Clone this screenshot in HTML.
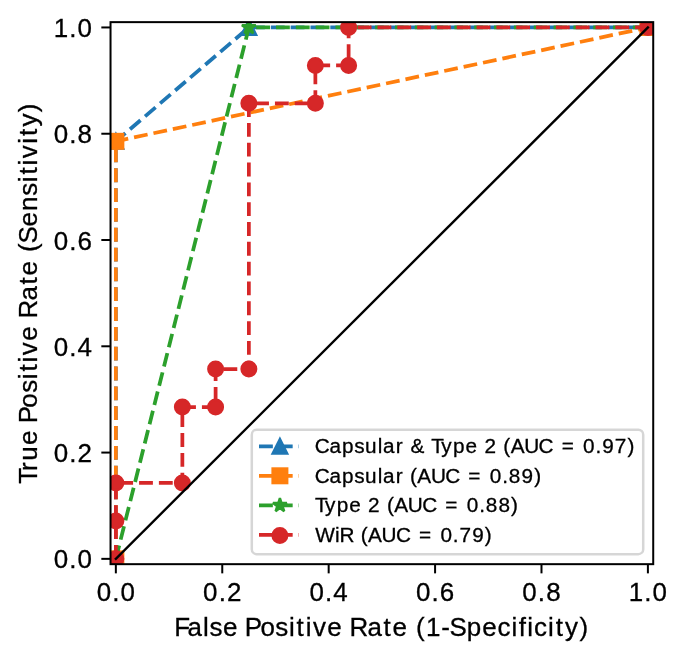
<!DOCTYPE html>
<html><head><meta charset="utf-8"><style>
html,body{margin:0;padding:0;background:#fff;}
svg{display:block;}
text{font-family:"Liberation Sans", sans-serif;fill:#000;stroke:#000;stroke-width:0.3px;}
svg{will-change:transform;}
</style></head><body>
<svg width="685" height="660" viewBox="0 0 685 660">
<defs><clipPath id="ax"><rect x="110.53" y="22.14" width="542.69" height="542.03"/></clipPath></defs>
<rect x="0" y="0" width="685" height="660" fill="#fff"/>
<g clip-path="url(#ax)">
<polyline points="115.85,558.85 115.85,141.32 248.86,27.45 647.90,27.45" fill="none" stroke="#1f77b4" stroke-width="3.75" stroke-dasharray="13.84 5.985" stroke-linejoin="round" stroke-linecap="butt"/>
<polygon points="115.85,551.55 108.55,566.15 123.15,566.15" fill="#1f77b4" stroke="#1f77b4" stroke-width="2.4" stroke-linejoin="miter"/>
<polygon points="115.85,134.02 108.55,148.62 123.15,148.62" fill="#1f77b4" stroke="#1f77b4" stroke-width="2.4" stroke-linejoin="miter"/>
<polygon points="248.86,20.15 241.56,34.75 256.16,34.75" fill="#1f77b4" stroke="#1f77b4" stroke-width="2.4" stroke-linejoin="miter"/>
<polygon points="647.90,20.15 640.60,34.75 655.20,34.75" fill="#1f77b4" stroke="#1f77b4" stroke-width="2.4" stroke-linejoin="miter"/>
<polyline points="115.85,558.85 115.85,141.32 647.90,27.45" fill="none" stroke="#ff7f0e" stroke-width="3.75" stroke-dasharray="13.84 5.985" stroke-linejoin="round" stroke-linecap="butt"/>
<rect x="108.55" y="551.55" width="14.6" height="14.6" fill="#ff7f0e" stroke="#ff7f0e" stroke-width="2.4" stroke-linejoin="miter"/>
<rect x="108.55" y="134.02" width="14.6" height="14.6" fill="#ff7f0e" stroke="#ff7f0e" stroke-width="2.4" stroke-linejoin="miter"/>
<rect x="640.60" y="20.15" width="14.6" height="14.6" fill="#ff7f0e" stroke="#ff7f0e" stroke-width="2.4" stroke-linejoin="miter"/>
<polyline points="115.85,558.85 248.86,27.45 647.90,27.45" fill="none" stroke="#2ca02c" stroke-width="3.75" stroke-dasharray="13.84 5.985" stroke-linejoin="round" stroke-linecap="butt"/>
<polygon points="115.85,551.55 114.21,556.59 108.91,556.59 113.20,559.71 111.56,564.76 115.85,561.64 120.14,564.76 118.50,559.71 122.79,556.59 117.49,556.59" fill="#2ca02c" stroke="#2ca02c" stroke-width="2.4" stroke-linejoin="bevel"/>
<polygon points="248.86,20.15 247.22,25.19 241.92,25.19 246.21,28.31 244.57,33.36 248.86,30.24 253.15,33.36 251.51,28.31 255.81,25.19 250.50,25.19" fill="#2ca02c" stroke="#2ca02c" stroke-width="2.4" stroke-linejoin="bevel"/>
<polygon points="647.90,20.15 646.26,25.19 640.96,25.19 645.25,28.31 643.61,33.36 647.90,30.24 652.19,33.36 650.55,28.31 654.84,25.19 649.54,25.19" fill="#2ca02c" stroke="#2ca02c" stroke-width="2.4" stroke-linejoin="bevel"/>
<polyline points="115.85,558.85 115.85,520.89 115.85,482.94 182.36,482.94 182.36,407.02 215.61,407.02 215.61,369.06 248.86,369.06 248.86,103.36 315.37,103.36 315.37,65.41 348.62,65.41 348.62,27.45 647.90,27.45" fill="none" stroke="#d62728" stroke-width="3.75" stroke-dasharray="13.84 5.985" stroke-linejoin="round" stroke-linecap="butt"/>
<circle cx="115.85" cy="558.85" r="7.30" fill="#d62728" stroke="#d62728" stroke-width="2.4"/>
<circle cx="115.85" cy="520.89" r="7.30" fill="#d62728" stroke="#d62728" stroke-width="2.4"/>
<circle cx="115.85" cy="482.94" r="7.30" fill="#d62728" stroke="#d62728" stroke-width="2.4"/>
<circle cx="182.36" cy="482.94" r="7.30" fill="#d62728" stroke="#d62728" stroke-width="2.4"/>
<circle cx="182.36" cy="407.02" r="7.30" fill="#d62728" stroke="#d62728" stroke-width="2.4"/>
<circle cx="215.61" cy="407.02" r="7.30" fill="#d62728" stroke="#d62728" stroke-width="2.4"/>
<circle cx="215.61" cy="369.06" r="7.30" fill="#d62728" stroke="#d62728" stroke-width="2.4"/>
<circle cx="248.86" cy="369.06" r="7.30" fill="#d62728" stroke="#d62728" stroke-width="2.4"/>
<circle cx="248.86" cy="103.36" r="7.30" fill="#d62728" stroke="#d62728" stroke-width="2.4"/>
<circle cx="315.37" cy="103.36" r="7.30" fill="#d62728" stroke="#d62728" stroke-width="2.4"/>
<circle cx="315.37" cy="65.41" r="7.30" fill="#d62728" stroke="#d62728" stroke-width="2.4"/>
<circle cx="348.62" cy="65.41" r="7.30" fill="#d62728" stroke="#d62728" stroke-width="2.4"/>
<circle cx="348.62" cy="27.45" r="7.30" fill="#d62728" stroke="#d62728" stroke-width="2.4"/>
<circle cx="647.90" cy="27.45" r="7.30" fill="#d62728" stroke="#d62728" stroke-width="2.4"/>
<line x1="115.85" y1="558.85" x2="647.90" y2="27.45" stroke="#000" stroke-width="2.4" stroke-linecap="square"/>
</g>
<rect x="110.53" y="22.14" width="542.69" height="542.03" fill="none" stroke="#000" stroke-width="2" stroke-linejoin="miter"/>
<line x1="115.85" y1="564.16" x2="115.85" y2="573.36" stroke="#000" stroke-width="2"/>
<line x1="110.53" y1="558.85" x2="101.33" y2="558.85" stroke="#000" stroke-width="2"/>
<text transform="translate(0,601.00) scale(1.02,1)" x="94.81 110.04 118.19" y="0" font-size="25.45">0.0</text>
<text transform="translate(0,568.40) scale(1.02,1)" x="52.72 67.96 76.11" y="0" font-size="25.45">0.0</text>
<line x1="222.26" y1="564.16" x2="222.26" y2="573.36" stroke="#000" stroke-width="2"/>
<line x1="110.53" y1="452.57" x2="101.33" y2="452.57" stroke="#000" stroke-width="2"/>
<text transform="translate(0,601.00) scale(1.02,1)" x="199.13 214.37 222.52" y="0" font-size="25.45">0.2</text>
<text transform="translate(0,462.12) scale(1.02,1)" x="52.72 67.96 76.11" y="0" font-size="25.45">0.2</text>
<line x1="328.67" y1="564.16" x2="328.67" y2="573.36" stroke="#000" stroke-width="2"/>
<line x1="110.53" y1="346.29" x2="101.33" y2="346.29" stroke="#000" stroke-width="2"/>
<text transform="translate(0,601.00) scale(1.02,1)" x="303.46 318.69 326.84" y="0" font-size="25.45">0.4</text>
<text transform="translate(0,355.84) scale(1.02,1)" x="52.72 67.96 76.11" y="0" font-size="25.45">0.4</text>
<line x1="435.08" y1="564.16" x2="435.08" y2="573.36" stroke="#000" stroke-width="2"/>
<line x1="110.53" y1="240.01" x2="101.33" y2="240.01" stroke="#000" stroke-width="2"/>
<text transform="translate(0,601.00) scale(1.02,1)" x="407.78 423.01 431.16" y="0" font-size="25.45">0.6</text>
<text transform="translate(0,249.56) scale(1.02,1)" x="52.72 67.96 76.11" y="0" font-size="25.45">0.6</text>
<line x1="541.49" y1="564.16" x2="541.49" y2="573.36" stroke="#000" stroke-width="2"/>
<line x1="110.53" y1="133.73" x2="101.33" y2="133.73" stroke="#000" stroke-width="2"/>
<text transform="translate(0,601.00) scale(1.02,1)" x="512.10 527.34 535.49" y="0" font-size="25.45">0.8</text>
<text transform="translate(0,143.28) scale(1.02,1)" x="52.72 67.96 76.11" y="0" font-size="25.45">0.8</text>
<line x1="647.90" y1="564.16" x2="647.90" y2="573.36" stroke="#000" stroke-width="2"/>
<line x1="110.53" y1="27.45" x2="101.33" y2="27.45" stroke="#000" stroke-width="2"/>
<text transform="translate(0,601.00) scale(1.02,1)" x="616.43 631.66 639.81" y="0" font-size="25.45">1.0</text>
<text transform="translate(0,37.00) scale(1.02,1)" x="52.72 67.96 76.11" y="0" font-size="25.45">1.0</text>
<text transform="translate(0,636.30) scale(1.02,1)" x="170.88 183.93 199.09 205.34 218.55 233.53 239.86 255.30 269.90 283.23 290.73 299.65 306.77 320.85 335.82 342.58 360.23 376.08 384.88 399.86 407.84 417.57 432.63 440.58 457.55 472.87 487.86 501.54 508.55 516.98 523.59 537.26 544.77 554.00 568.16" y="0" font-size="25.45">False Positive Rate (1-Specificity)</text>
<text transform="translate(36.5,293.15) rotate(-90) translate(0,0.00) scale(1.02,1)" x="-186.76 -174.26 -164.29 -148.99 -134.01 -127.68 -112.24 -97.64 -84.31 -76.81 -67.89 -60.77 -46.69 -31.72 -24.96 -7.31 8.54 17.35 32.32 40.30 48.61 65.34 80.64 95.51 108.83 116.34 125.25 132.38 146.57 154.07 163.30 177.46" y="0" font-size="25.45">True Positive Rate (Sensitivity)</text>
<rect x="251.80" y="429.70" width="391.42" height="124.46" rx="5" ry="5" fill="#fff" fill-opacity="0.8" stroke="#cccccc" stroke-opacity="0.8" stroke-width="2.5"/>
<line x1="259.0" y1="446.30" x2="299.0" y2="446.30" stroke="#1f77b4" stroke-width="3.75" stroke-dasharray="13.84 5.985" stroke-linecap="butt"/>
<polygon points="279.90,439.00 272.60,453.60 287.20,453.60" fill="#1f77b4" stroke="#1f77b4" stroke-width="2.4" stroke-linejoin="miter"/>
<text transform="translate(0,453.30) scale(1.02,1)" x="308.51 323.06 335.29 347.19 357.94 370.28 375.61 387.92 395.63 402.43 417.15 422.87 432.72 444.17 456.43 468.41 474.93 487.12 493.50 500.63 513.95 527.97 542.46 550.67 565.12 571.64 583.83 590.35 602.82 615.16" y="0" font-size="20.36">Capsular &amp; Type 2 (AUC = 0.97)</text>
<line x1="259.0" y1="475.80" x2="299.0" y2="475.80" stroke="#ff7f0e" stroke-width="3.75" stroke-dasharray="13.84 5.985" stroke-linecap="butt"/>
<rect x="272.60" y="468.50" width="14.6" height="14.6" fill="#ff7f0e" stroke="#ff7f0e" stroke-width="2.4" stroke-linejoin="miter"/>
<text transform="translate(0,482.80) scale(1.02,1)" x="308.51 323.06 335.29 347.19 357.94 370.28 375.61 387.92 395.63 402.01 409.14 422.46 436.48 450.97 459.18 473.63 480.15 492.34 498.86 511.33 523.67" y="0" font-size="20.36">Capsular (AUC = 0.89)</text>
<line x1="259.0" y1="505.30" x2="299.0" y2="505.30" stroke="#2ca02c" stroke-width="3.75" stroke-dasharray="13.84 5.985" stroke-linecap="butt"/>
<polygon points="279.90,498.00 278.26,503.04 272.96,503.04 277.25,506.16 275.61,511.21 279.90,508.09 284.19,511.21 282.55,506.16 286.84,503.04 281.54,503.04" fill="#2ca02c" stroke="#2ca02c" stroke-width="2.4" stroke-linejoin="bevel"/>
<text transform="translate(0,512.30) scale(1.02,1)" x="308.79 318.65 330.10 342.35 354.33 360.86 373.04 379.42 386.55 399.87 413.90 428.38 436.60 451.04 457.56 469.75 476.27 488.75 501.08" y="0" font-size="20.36">Type 2 (AUC = 0.88)</text>
<line x1="259.0" y1="534.80" x2="299.0" y2="534.80" stroke="#d62728" stroke-width="3.75" stroke-dasharray="13.84 5.985" stroke-linecap="butt"/>
<circle cx="279.90" cy="535.60" r="7.30" fill="#d62728" stroke="#d62728" stroke-width="2.4"/>
<text transform="translate(0,541.80) scale(1.02,1)" x="309.11 328.38 332.83 347.28 353.66 360.79 374.11 388.13 402.62 410.83 425.28 431.80 443.99 450.51 462.98 475.32" y="0" font-size="20.36">WiR (AUC = 0.79)</text>
</svg>
</body></html>
